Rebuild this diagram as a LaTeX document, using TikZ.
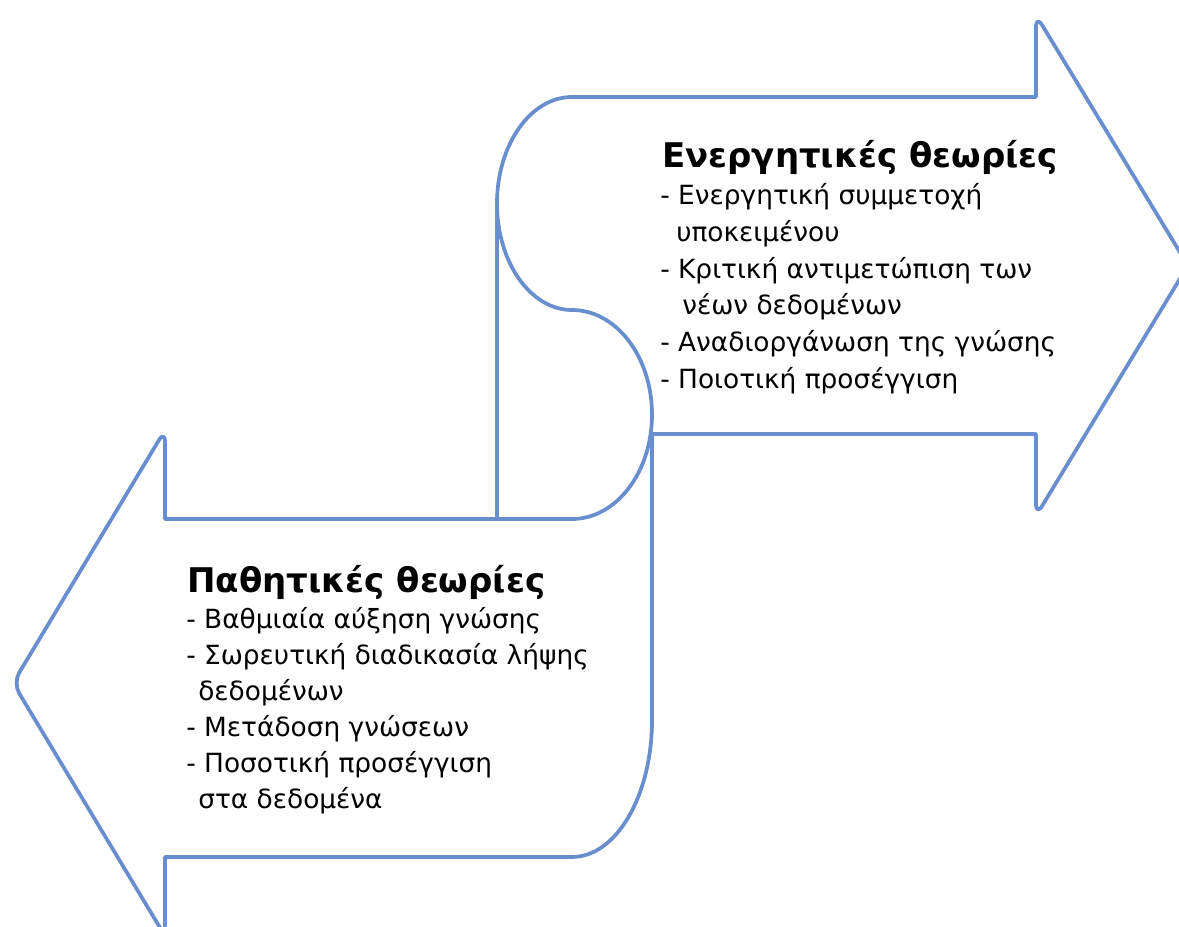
\documentclass[tikz,border=0pt]{standalone}
\usepackage{fontspec}
\setmainfont{DejaVu Sans}
\definecolor{arrblue}{RGB}{104,142,206}
\tikzset{
  arrline/.style={draw=arrblue, line width=2.8pt, line join=round},
  ttl/.style={anchor=base west, inner sep=0pt, font=\fontsize{25.5}{30}\selectfont\bfseries},
  itm/.style={anchor=base west, inner sep=0pt, font=\fontsize{19.8}{24}\selectfont},
}
\begin{document}
\begin{tikzpicture}[x=0.75pt, y=-0.75pt]
\useasboundingbox (0,0) rectangle (1179,927);
% arrows outline
\draw[arrline] (652,434) -- (1036,434) [rounded corners=9pt] -- (1036,516) -- (1188,265.5) -- (1036,15) [sharp corners] -- (1036,97) -- (572,97)
  arc[start angle=270, end angle=90, x radius=75, y radius=106.5]
  arc[start angle=-90, end angle=90, x radius=80, y radius=104.5]
  -- (165,519) [rounded corners=9pt] -- (165,430) -- (13,683) -- (165,936) [sharp corners] -- (165,857) -- (572,857)
  arc[start angle=90, end angle=0, x radius=80, y radius=137] -- cycle;
\coordinate (vtop) at (497,203.5);
\coordinate (vbot) at (497,519);
\draw[arrline] (vtop) -- (vbot);
% upper texts
\node[ttl] (u0) at (662,168) {Ενεργητικές θεωρίες};
\node[itm] (u1) at (660,205) {- Ενεργητική συμμετοχή};
\node[itm] (u2) at (676,241.6) {υποκειμένου};
\node[itm] (u3) at (660,278.2) {- Κριτική αντιμετώπιση των};
\node[itm] (u4) at (682,314.8) {νέων δεδομένων};
\node[itm] (u5) at (660,351.4) {- Αναδιοργάνωση της γνώσης};
\node[itm] (u6) at (660,388) {- Ποιοτική προσέγγιση};
% lower texts
\node[ttl] (l0) at (187,592) {Παθητικές θεωρίες};
\node[itm] (l1) at (186,628.5) {- Βαθμιαία αύξηση γνώσης};
\node[itm] (l2) at (186,664.5) {- Σωρευτική διαδικασία λήψης};
\node[itm] (l3) at (198,700.5) {δεδομένων};
\node[itm] (l4) at (186,736.5) {- Μετάδοση γνώσεων};
\node[itm] (l5) at (186,772.5) {- Ποσοτική προσέγγιση};
\node[itm] (l6) at (198,808.5) {στα δεδομένα};
\end{tikzpicture}
\end{document}
